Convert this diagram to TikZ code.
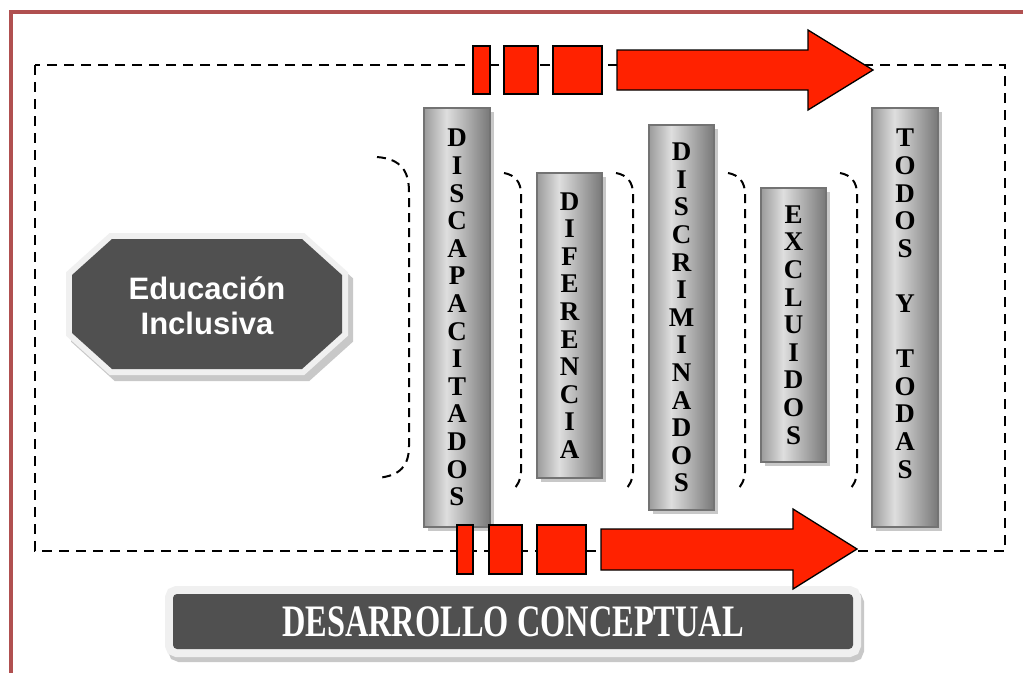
\documentclass[tikz,border=0pt]{standalone}
\usepackage{fontspec}
\setmainfont{Liberation Serif}
\newfontfamily\arialfont{Liberation Sans}
\newfontfamily\bannerfont[FakeStretch=0.72]{Liberation Serif}
\usetikzlibrary{shadows}
\definecolor{framered}{RGB}{176,80,80}
\definecolor{darkbox}{RGB}{80,80,80}
\definecolor{arrowred}{RGB}{255,34,0}
\definecolor{colL}{RGB}{155,155,155}
\definecolor{colM}{RGB}{222,222,222}
\definecolor{colR}{RGB}{120,120,120}
\definecolor{colborder}{RGB}{115,115,115}
\definecolor{shadowgray}{RGB}{200,200,200}
\definecolor{framegray}{RGB}{240,240,240}
\pgfdeclarehorizontalshading{colgrad}{100bp}{color(0bp)=(colL); color(25bp)=(colL); color(42bp)=(colM); color(75bp)=(colR); color(100bp)=(colR)}
\tikzset{
  dashbox/.style={line width=2.5pt, dash pattern=on 10pt off 7pt},
  bracket/.style={line width=2pt, dash pattern=on 9pt off 6pt},
  column/.style={rectangle, shade, shading=colgrad, draw=colborder, line width=1.5pt, inner sep=0pt,
    drop shadow={shadow xshift=4pt, shadow yshift=-4pt, fill=shadowgray, opacity=1},
    font=\fontsize{27}{27.6}\selectfont\bfseries, align=center},
  redpart/.style={fill=arrowred, draw=black, line width=1.3pt, line join=miter},
  octshadow/.style={fill=shadowgray, draw=shadowgray, line width=12pt, line join=miter},
  octframe/.style={draw=framegray, line width=12pt, line join=miter},
  octfill/.style={fill=darkbox},
  edutext/.style={text=white, inner sep=0pt, font=\arialfont\bfseries\fontsize{31}{35}\selectfont, align=center},
  banner/.style={rectangle, rounded corners=4pt, minimum width=680pt, minimum height=55pt, inner sep=0pt,
    fill=darkbox, text=white, font=\bannerfont\bfseries\fontsize{45}{50}\selectfont,
    drop shadow={shadow xshift=3pt, shadow yshift=-5pt, fill=shadowgray, draw=shadowgray, line width=16pt, opacity=1},
    preaction={draw=framegray, line width=16pt}},
}
\newcommand\octpath[2]{(#1+112,#2+239) -- (#1+302,#2+239) -- (#1+342,#2+275) -- (#1+342,#2+333) -- (#1+302,#2+369) -- (#1+112,#2+369) -- (#1+72,#2+333) -- (#1+72,#2+275) -- cycle}
\begin{document}
\begin{tikzpicture}[x=1pt,y=-1pt]
\useasboundingbox (0,0) rectangle (1023,673);
\fill[white] (0,0) rectangle (1023,673);
% frame
\draw[framered, line width=4pt] (1023,12) -- (10.5,12) -- (10.5,673);
% dashed box
\draw[dashbox] (35,65) rectangle (1005,551);
% central octagon
\path[octshadow] \octpath{5}{6};
\path[octframe] \octpath{0}{0};
\path[octfill] \octpath{0}{0};
\node[edutext] (edu) at (207,306) {Educación\\Inclusiva};
% brackets
\draw[bracket] (377,157) .. controls (402,159) and (409,172) .. (409,192) -- (409,446) .. controls (409,466) and (400,476) .. (377,478);
\foreach \x in {521,633,745,857}{
  \draw[bracket] ({\x-17},173) .. controls ({\x-6},175) and (\x,182) .. (\x,194) -- (\x,472) .. controls (\x,480) and ({\x-4},486) .. ({\x-8},490);
}
% columns
\node[column, minimum width=66pt, minimum height=419pt] (c1) at (457,317.5) {D\\I\\S\\C\\A\\P\\A\\C\\I\\T\\A\\D\\O\\S};
\node[column, minimum width=65pt, minimum height=305pt] (c2) at (569.5,325.5) {D\\I\\F\\E\\R\\E\\N\\C\\I\\A};
\node[column, minimum width=65pt, minimum height=385pt] (c3) at (681.5,317.5) {D\\I\\S\\C\\R\\I\\M\\I\\N\\A\\D\\O\\S};
\node[column, minimum width=65pt, minimum height=274pt] (c4) at (793.5,325) {E\\X\\C\\L\\U\\I\\D\\O\\S};
\node[column, minimum width=66pt, minimum height=419pt] (c5) at (905,317.5) {T\\O\\D\\O\\S\\~\\Y\\~\\T\\O\\D\\A\\S\\~};
% banner
\node[banner] (banner) at (513,621.5) {DESARROLLO CONCEPTUAL};
% top arrow
\draw[redpart] (473,46) rectangle (490,94);
\draw[redpart] (504,46) rectangle (538,94);
\draw[redpart] (553,46) rectangle (602,94);
\draw[redpart] (617,50) -- (808,50) -- (808,30) -- (873,70) -- (808,110) -- (808,90) -- (617,90) -- cycle;
% bottom arrow
\draw[redpart] (457,525) rectangle (473,574);
\draw[redpart] (489,525) rectangle (522,574);
\draw[redpart] (537,525) rectangle (586,574);
\draw[redpart] (601,529) -- (793,529) -- (793,509) -- (857,549) -- (793,589) -- (793,570) -- (601,570) -- cycle;
\end{tikzpicture}
\end{document}
